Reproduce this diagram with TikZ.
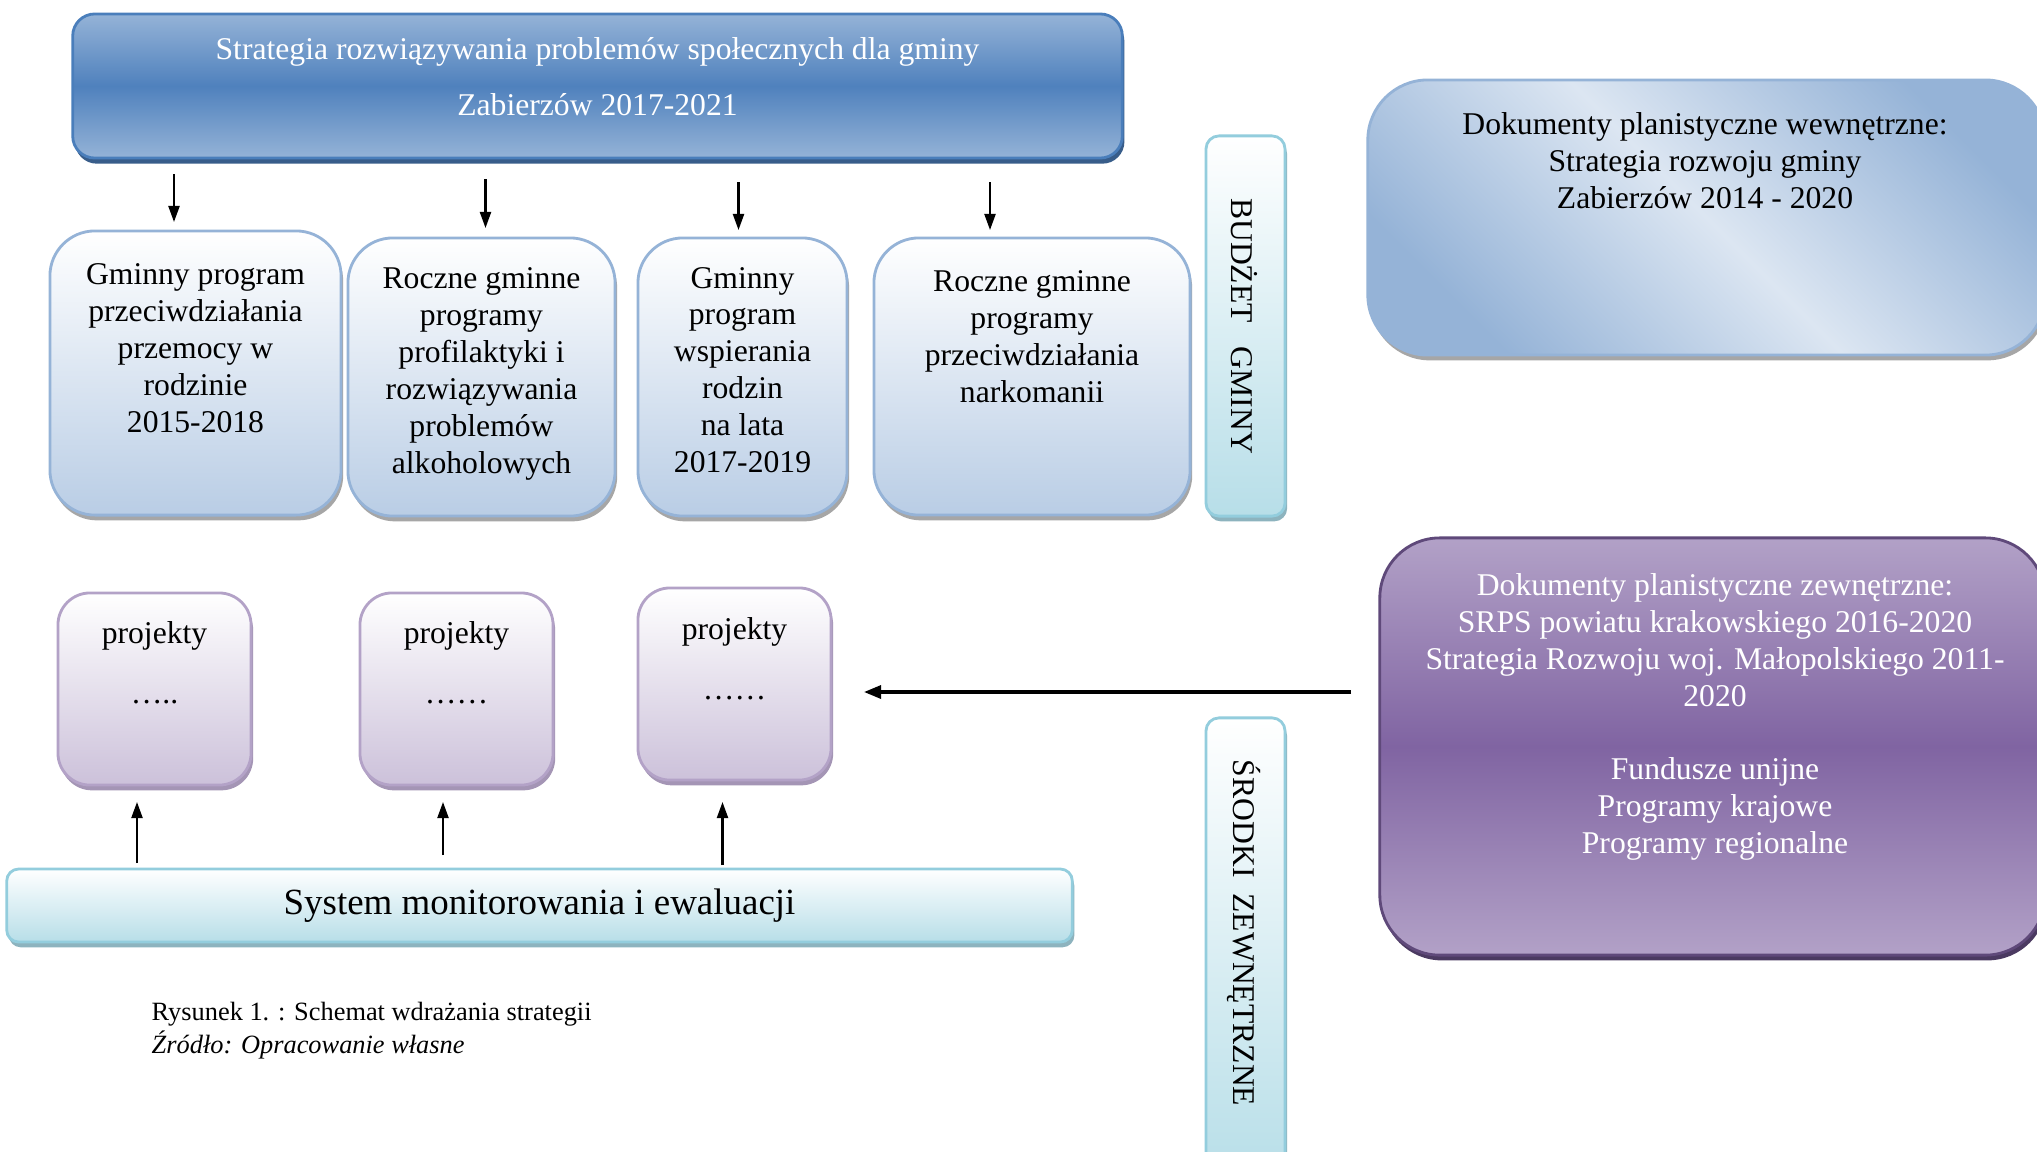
\documentclass[tikz,border=0pt]{standalone}
\usepackage{fontspec}
\setmainfont{Liberation Serif}
\usetikzlibrary{arrows.meta,shadows}
\definecolor{topmid}{HTML}{4F81BD}
\definecolor{topend}{HTML}{95B3D7}
\definecolor{topbd}{HTML}{4A7EBB}
\definecolor{topsh}{HTML}{385D8A}
\definecolor{bluebot}{HTML}{B9CDE5}
\definecolor{bluebd}{HTML}{95B3D7}
\definecolor{greysh}{HTML}{A6A6A6}
\definecolor{aquabot}{HTML}{B7DEE8}
\definecolor{aquabd}{HTML}{93CDDD}
\definecolor{aquash}{HTML}{8DB3BE}
\definecolor{lilabot}{HTML}{CCC1DA}
\definecolor{lilabd}{HTML}{B3A2C7}
\definecolor{lilash}{HTML}{A495B5}
\definecolor{purend}{HTML}{B2A1C7}
\definecolor{purmid}{HTML}{8064A2}
\definecolor{purbd}{HTML}{5F497A}
\definecolor{pursh}{HTML}{4B3A61}
\definecolor{wewlight}{HTML}{DCE6F2}
\definecolor{wewdark}{HTML}{95B3D7}
\begin{document}
\begin{tikzpicture}[x=0.01cm,y=-0.01cm,
  boxbase/.style={draw, line width=0.8pt, inner sep=0pt},
  topbox/.style={boxbase, draw=topbd, top color=topend, bottom color=topend, middle color=topmid,
    rounded corners=0.22cm, general shadow={fill=topsh, shadow xshift=0.6pt, shadow yshift=-1.6pt}},
  progbox/.style={boxbase, draw=bluebd, top color=white, bottom color=bluebot,
    rounded corners=0.45cm, general shadow={fill=greysh, shadow xshift=0.6pt, shadow yshift=-1.5pt}},
  aquabox/.style={boxbase, draw=aquabd, top color=white, bottom color=aquabot,
    general shadow={fill=aquash, shadow xshift=0.6pt, shadow yshift=-1.5pt}},
  projbox/.style={boxbase, draw=lilabd, top color=white, bottom color=lilabot,
    rounded corners=0.32cm, general shadow={fill=lilash, shadow xshift=0.6pt, shadow yshift=-1.5pt}},
  wewbox/.style={boxbase, draw=wewdark, top color=wewdark, bottom color=wewdark, middle color=wewlight,
    shading angle=-45, rounded corners=0.6cm, general shadow={fill=greysh, shadow xshift=0.6pt, shadow yshift=-1.5pt}},
  zewbox/.style={boxbase, draw=purbd, top color=purend, bottom color=purend, middle color=purmid,
    rounded corners=0.6cm, general shadow={fill=pursh, shadow xshift=0.6pt, shadow yshift=-1.5pt}},
  txt/.style={align=center, inner sep=0pt, font=\fontsize{9}{10.5}\selectfont},
  arr/.style={-{Triangle[length=0.16cm,width=0.11cm]}, line width=0.6pt},
  arrbig/.style={-{Triangle[length=0.17cm,width=0.13cm]}, line width=0.9pt}
]
\path[use as bounding box] (0,0) rectangle (2037,1151);
\fill[white] (0,0) rectangle (2037,1151);
\clip (0,0) rectangle (2037,1151);

% top strategy box
\node[topbox, minimum width=10.49cm, minimum height=1.44cm] (top) at (597.5,86) {};
\node[txt, text=white, font=\fontsize{9}{15.9}\selectfont] (toptxt) at (597.5,77)
  {Strategia rozwiązywania problemów społecznych dla gminy\\Zabierzów 2017-2021};

% programme boxes
\node[progbox, minimum width=2.91cm, minimum height=2.84cm] (b1) at (195.5,373) {};
\node[txt] (b1t) at (195.5,348) {Gminny program\\przeciwdziałania\\przemocy w\\rodzinie\\2015-2018};
\node[progbox, minimum width=2.67cm, minimum height=2.78cm] (b2) at (481.5,377) {};
\node[txt] (b2t) at (481.5,374) {Roczne gminne\\programy\\profilaktyki i\\rozwiązywania\\problemów\\alkoholowych};
\node[progbox, minimum width=2.09cm, minimum height=2.78cm] (b3) at (742.5,377) {};
\node[txt] (b3t) at (742.5,370) {Gminny\\program\\wspierania\\rodzin\\na lata\\2017-2019};
\node[progbox, minimum width=3.16cm, minimum height=2.77cm] (b4) at (1032,376.5) {};
\node[txt] (b4t) at (1032,337) {Roczne gminne\\programy\\przeciwdziałania\\narkomanii};

% down arrows
\coordinate (d1s) at (174,174);   \coordinate (d1e) at (174,222);
\coordinate (d2s) at (485.5,179); \coordinate (d2e) at (485.5,228);
\coordinate (d3s) at (738.5,182); \coordinate (d3e) at (738.5,230);
\coordinate (d4s) at (990,182);   \coordinate (d4e) at (990,230);
\draw[arr] (d1s) -- (d1e);
\draw[arr] (d2s) -- (d2e);
\draw[arr] (d3s) -- (d3e);
\draw[arr] (d4s) -- (d4e);

% budget
\node[aquabox, rounded corners=0.13cm, minimum width=0.79cm, minimum height=3.80cm] (bud) at (1245.5,326) {};
\node[txt, rotate=-90] (budt) at (1244,326) {BUDŻET\ \ \ GMINY};

% internal documents
\node[wewbox, minimum width=6.77cm, minimum height=2.75cm] (wew) at (1706.5,217.5) {};
\node[txt] (wewt) at (1705,161) {Dokumenty planistyczne wewnętrzne:\\Strategia rozwoju gminy\\Zabierzów 2014 - 2020};

% external documents
\node[zewbox, minimum width=6.65cm, minimum height=4.17cm] (zew) at (1712.5,746.5) {};
\node[txt, text=white] (zewt) at (1715,717) {Dokumenty planistyczne zewnętrzne:\\SRPS powiatu krakowskiego 2016-2020\\Strategia Rozwoju woj. Małopolskiego 2011-\\2020\\[10.5pt]Fundusze unijne\\Programy krajowe\\Programy regionalne};

% external funds
\node[aquabox, rounded corners=0.13cm, minimum width=0.79cm, minimum height=4.62cm] (srod) at (1245.5,949) {};
\node[txt, rotate=-90] (srodt) at (1244,933) {ŚRODKI\ \ ZEWNĘTRZNE};

% projects
\node[projbox, minimum width=1.93cm, minimum height=1.92cm] (p1) at (154.5,689) {};
\node[txt, font=\fontsize{9}{17}\selectfont] (p1t) at (154.5,663) {projekty\\…..};
\node[projbox, minimum width=1.93cm, minimum height=1.92cm] (p2) at (456.5,689) {};
\node[txt, font=\fontsize{9}{17}\selectfont] (p2t) at (456.5,663) {projekty\\……};
\node[projbox, minimum width=1.93cm, minimum height=1.92cm] (p3) at (734.5,684) {};
\node[txt, font=\fontsize{9}{17}\selectfont] (p3t) at (734.5,659) {projekty\\……};

% monitoring system
\node[aquabox, rounded corners=0.12cm, minimum width=10.65cm, minimum height=0.73cm,
  font=\fontsize{10.5}{12}\selectfont] (sys) at (539.5,905.5) {System monitorowania i ewaluacji};

% up arrows
\coordinate (u1s) at (137,863);   \coordinate (u1e) at (137,802);
\coordinate (u2s) at (443,855);   \coordinate (u2e) at (443,802);
\coordinate (u3s) at (722.5,865); \coordinate (u3e) at (722.5,802);
\draw[arr] (u1s) -- (u1e);
\draw[arr] (u2s) -- (u2e);
\draw[arr] (u3s) -- (u3e);

% arrow from external documents towards projects
\coordinate (ls) at (1351,692); \coordinate (le) at (864,692);
\draw[arrbig] (ls) -- (le);

% caption
\node[anchor=west, align=left, inner sep=0pt, font=\fontsize{7.5}{9.4}\selectfont] (cap) at (151,1031)
  {Rysunek 1. : Schemat wdrażania strategii\\\textit{Źródło: Opracowanie własne}};
\end{tikzpicture}
\end{document}
